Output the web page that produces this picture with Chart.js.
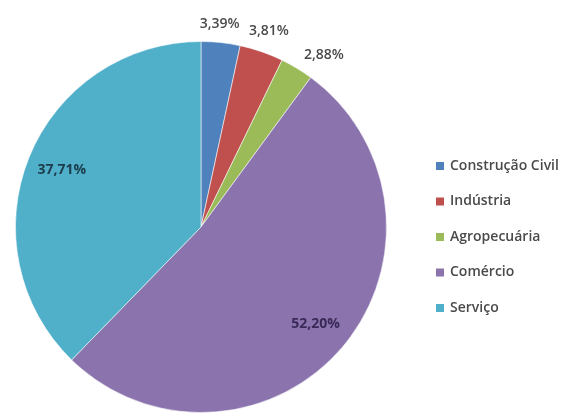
<!DOCTYPE html>
<html>
<head>
<meta charset="utf-8">
<script src="https://cdn.jsdelivr.net/npm/chart.js@4/dist/chart.umd.min.js"></script>
<style>
  html, body { margin: 0; padding: 0; background: #ffffff; }
  #wrap { width: 571px; height: 417px; position: relative; }
</style>
</head>
<body>
<div id="wrap"><canvas id="c" width="571" height="417"></canvas></div>
<script>
// Participação por setor (%)
const categories = ['Construção Civil', 'Indústria', 'Agropecuária', 'Comércio', 'Serviço'];
const shares = [3.39, 3.81, 2.88, 52.20, 37.71];
const sliceColors = ['#4F81BD', '#C0504D', '#9BBB59', '#8B74AD', '#50AFC9'];

const FONT = '"Open Sans", "Liberation Sans", sans-serif';

function fmt(v) {
  return v.toFixed(2).replace('.', ',') + '%';
}

// Percentage labels: large slices get the label inside, small ones just outside the rim
const sliceLabels = {
  id: 'sliceLabels',
  afterDatasetsDraw(chart, args, opts) {
    const ctx = chart.ctx;
    const meta = chart.getDatasetMeta(0);
    const values = chart.data.datasets[0].data;
    ctx.save();
    ctx.textAlign = 'center';
    ctx.textBaseline = 'middle';
    meta.data.forEach((arc, i) => {
      const p = arc.getProps(['x', 'y', 'startAngle', 'endAngle', 'outerRadius'], true);
      const mid = (p.startAngle + p.endAngle) / 2;
      const dx = Math.cos(mid), dy = Math.sin(mid);
      const text = fmt(values[i]);
      let x, y;
      if (values[i] > 10) {
        ctx.font = 'bold 14px ' + FONT;
        ctx.fillStyle = opts.insideColors[i] || '#1f2f40';
        const r = p.outerRadius * 0.81;
        x = p.x + dx * r;
        y = p.y + dy * r;
      } else {
        ctx.font = '600 14px ' + FONT;
        ctx.fillStyle = '#4a4a4a';
        const w = ctx.measureText(text).width;
        const ext = Math.abs(dx) * w / 2 + Math.abs(dy) * 6;
        const r = p.outerRadius + 10 + ext;
        x = p.x + dx * r;
        y = p.y + dy * r;
        const n = opts.nudge[i];
        if (n) { x += n[0]; y += n[1]; }
      }
      ctx.fillText(text, x, y);
    });
    ctx.restore();
  }
};

// Legend column at the right of the pie
const sideLegend = {
  id: 'sideLegend',
  afterDraw(chart, args, opts) {
    const ctx = chart.ctx;
    const colors = chart.data.datasets[0].backgroundColor;
    ctx.save();
    ctx.font = '600 14px ' + FONT;
    ctx.textBaseline = 'middle';
    ctx.textAlign = 'left';
    chart.data.labels.forEach((label, i) => {
      const cy = opts.top + i * opts.step;
      ctx.fillStyle = colors[i];
      ctx.fillRect(opts.left, cy - 4, 8, 8);
      ctx.fillStyle = '#4a4a4a';
      ctx.fillText(label, opts.left + 14, cy);
    });
    ctx.restore();
  }
};

new Chart(document.getElementById('c'), {
  type: 'pie',
  data: {
    labels: categories,
    datasets: [{
      data: shares,
      backgroundColor: sliceColors,
      borderColor: 'rgba(255,255,255,0.55)',
      borderWidth: 1
    }]
  },
  options: {
    responsive: false,
    animation: false,
    layout: { padding: { left: 14, right: 183, top: 41, bottom: 4 } },
    plugins: {
      legend: { display: false },
      tooltip: { enabled: false },
      sliceLabels: {
        insideColors: { 3: '#3a2a58', 4: '#1b3d4c' },
        nudge: { 2: [14, 9], 0: [-3, -1] }
      },
      sideLegend: { left: 436, top: 166, step: 35.5 }
    }
  },
  plugins: [sliceLabels, sideLegend]
});
</script>
</body>
</html>
